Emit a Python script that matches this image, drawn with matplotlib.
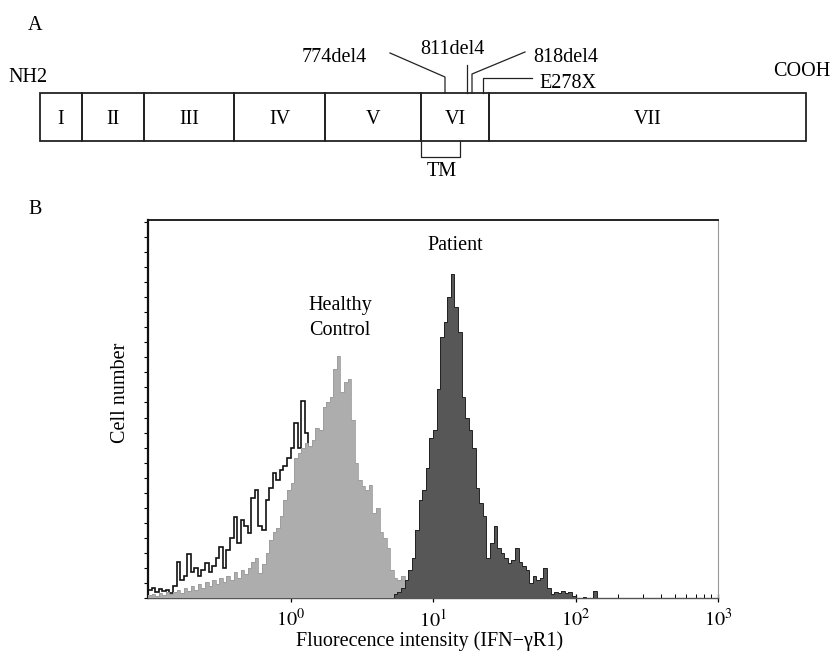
#!/usr/bin/env python3
"""IFN-gR1 domain map (A) and flow cytometry histogram (B)."""

import matplotlib

matplotlib.use("Agg")

import matplotlib.pyplot as plt
import numpy as np
from matplotlib.patches import Rectangle
from matplotlib.ticker import FixedLocator, MultipleLocator, NullFormatter

# --- panel A: receptor domains (diagram units, N-term at 0) ---
DOMAINS = ["I", "II", "III", "IV", "V", "VI", "VII"]
DOMAIN_EDGES = [0, 42, 104, 194, 285, 381, 449, 766]

# --- panel B: histogram channels, 40 channels per decade starting at 10^-1 ---
CHANNELS_PER_DECADE = 40
ISOTYPE = [
    8, 10, 6, 9, 7, 8, 5,
    12, 36, 18, 22, 44, 26,
    30, 22, 28, 35, 26, 32,
    40, 51, 30, 48, 60, 81,
    55, 78, 72, 65, 100, 108,
    72, 68, 98, 110, 125, 118,
    128, 132, 140, 150, 175, 150,
    196, 165, 140,
    128, 112, 98, 84, 70, 56, 44, 34, 26, 20, 15, 11, 8, 6, 5, 4, 3, 3, 2, 2, 1, 1, 1, 0,
]
HEALTHY = [
    3, 4, 2, 5, 3, 6, 4,
    6, 8, 5, 10, 7, 12,
    8, 14, 10, 16, 12, 18,
    14, 20, 16, 22, 18, 26,
    20, 28, 24, 30, 36, 40,
    25, 34, 45, 58, 66, 70,
    82, 98, 108, 115, 140, 145,
    150, 155, 152, 158, 170, 168,
    190, 195, 200, 228, 241, 205,
    215, 218, 178, 135, 118, 112,
    108, 113, 85, 90, 66, 60,
    50, 28, 20, 18, 22, 12,
    8, 5, 3, 2, 1,
]
PATIENT_START = 69
PATIENT = [
    4, 6, 10, 18, 28, 40,
    68, 98, 108, 130, 160, 168,
    208, 260, 275, 300, 323, 290,
    265, 200, 180, 168, 150, 110,
    95, 82, 40, 55, 72, 50,
    45, 40, 35, 38, 50, 36,
    32, 28, 15, 22, 18, 20,
    30, 10, 4, 6, 5, 7,
    5, 6, 2, 0, 0, 1,
    0, 0, 7, 0,
]
TICK_VALUES = [1, 10, 100, 1000]
TICK_LABELS = [r"$10^{0}$", r"$10^{1}$", r"$10^{2}$", r"$10^{3}$"]

W, H = 834, 657


def fx(x):
    return x / W


def fy(y):
    return 1 - y / H


def main():
    plt.rcParams.update({
        "font.family": "serif",
        "font.serif": ["Liberation Serif", "DejaVu Serif"],
        "mathtext.fontset": "stix",
        "font.size": 14.5,
    })
    fig = plt.figure(figsize=(W / 100, H / 100), dpi=100)

    # overlay in pixel coordinates for the domain diagram and free text
    ov = fig.add_axes([0, 0, 1, 1], zorder=0)
    ov.set_xlim(0, W)
    ov.set_ylim(H, 0)
    ov.axis("off")

    x0, top, bot = 40, 93, 141
    for name, a, b in zip(DOMAINS, DOMAIN_EDGES[:-1], DOMAIN_EDGES[1:]):
        ov.add_patch(Rectangle((x0 + a, top), b - a, bot - top, fill=False,
                               edgecolor="#222222", linewidth=1.3))
        ov.text(x0 + (a + b) / 2, 120, name, ha="center", va="center")

    line_kw = dict(color="#222222", linewidth=0.9)
    ov.plot([390, 445, 445], [53, 77, top], **line_kw)
    ov.plot([467, 467], [65, top], **line_kw)
    ov.plot([525, 472, 472], [52, 74, top], **line_kw)
    ov.plot([532, 483, 483], [78, 78, top], **line_kw)
    ov.plot([421, 421, 460, 460], [bot, 157, 157, bot], **line_kw)

    ov.text(334, 57, "774del4", ha="center", va="center")
    ov.text(452, 50, "811del4", ha="center", va="center")
    ov.text(566, 57, "818del4", ha="center", va="center")
    ov.text(568, 84, "E278X", ha="center", va="center")
    ov.text(28, 78, "NH2", ha="center", va="center")
    ov.text(802, 72, "COOH", ha="center", va="center")
    ov.text(442, 172, "TM", ha="center", va="center")
    ov.text(35, 25, "A", ha="center", va="center")
    ov.text(35, 209, "B", ha="center", va="center")
    ov.text(455, 245, "Patient", ha="center", va="center")
    ov.text(340, 318, "Healthy\nControl", ha="center", va="center", linespacing=1.4)
    ov.text(430, 641, "Fluorecence intensity (IFN\u2212\u03b3R1)", ha="center", va="center")
    ov.text(121, 393, "Cell number", ha="center", va="center", rotation=90)

    # panel B histogram
    ax = fig.add_axes([fx(148), fy(598), fx(718) - fx(148), fy(220) - fy(598)], zorder=1)
    ax.patch.set_alpha(0)
    edges = 10.0 ** (-1 + np.arange(4 * CHANNELS_PER_DECADE + 1) / CHANNELS_PER_DECADE)

    iso = np.array(ISOTYPE, dtype=float)
    ax.stairs(iso, edges[:len(iso) + 1], color="#111111", linewidth=1.2, zorder=2)
    hc = np.array(HEALTHY, dtype=float)
    ax.stairs(hc, edges[:len(hc) + 1], fill=True, color="#adadad", zorder=3)
    ax.stairs(hc, edges[:len(hc) + 1], color="#9c9c9c", linewidth=0.6, zorder=3)
    pt = np.array(PATIENT, dtype=float)
    pe = edges[PATIENT_START:PATIENT_START + len(pt) + 1]
    ax.stairs(pt, pe, fill=True, color="#575757", zorder=4)
    ax.stairs(pt, pe, color="#222222", linewidth=0.7, zorder=4)

    ax.set_xscale("log")
    ax.set_xlim(0.1, 1000)
    ax.set_ylim(0, 377)
    ax.xaxis.set_major_locator(FixedLocator(TICK_VALUES))
    ax.set_xticklabels(TICK_LABELS)
    minors = [m * 10.0 ** d for d in range(-1, 3) for m in range(2, 10)]
    ax.xaxis.set_minor_locator(FixedLocator(minors))
    ax.xaxis.set_minor_formatter(NullFormatter())
    ax.tick_params(axis="x", which="major", direction="inout", length=6, width=0.9, pad=5,
                   labelsize=14.5)
    ax.tick_params(axis="x", which="minor", direction="in", length=3, width=0.7)
    ax.yaxis.set_major_locator(MultipleLocator(15))
    ax.tick_params(axis="y", which="major", direction="out", length=3, width=0.8, labelleft=False)
    ax.tick_params(axis="y", which="minor", left=False)

    ax.spines["left"].set_linewidth(1.6)
    ax.spines["left"].set_color("#111111")
    ax.spines["top"].set_linewidth(1.3)
    ax.spines["top"].set_color("#111111")
    ax.spines["right"].set_linewidth(0.8)
    ax.spines["right"].set_color("#999999")
    ax.spines["bottom"].set_linewidth(1.0)
    ax.spines["bottom"].set_color("#555555")

    fig.savefig("out.png", dpi=100)


if __name__ == "__main__":
    main()
